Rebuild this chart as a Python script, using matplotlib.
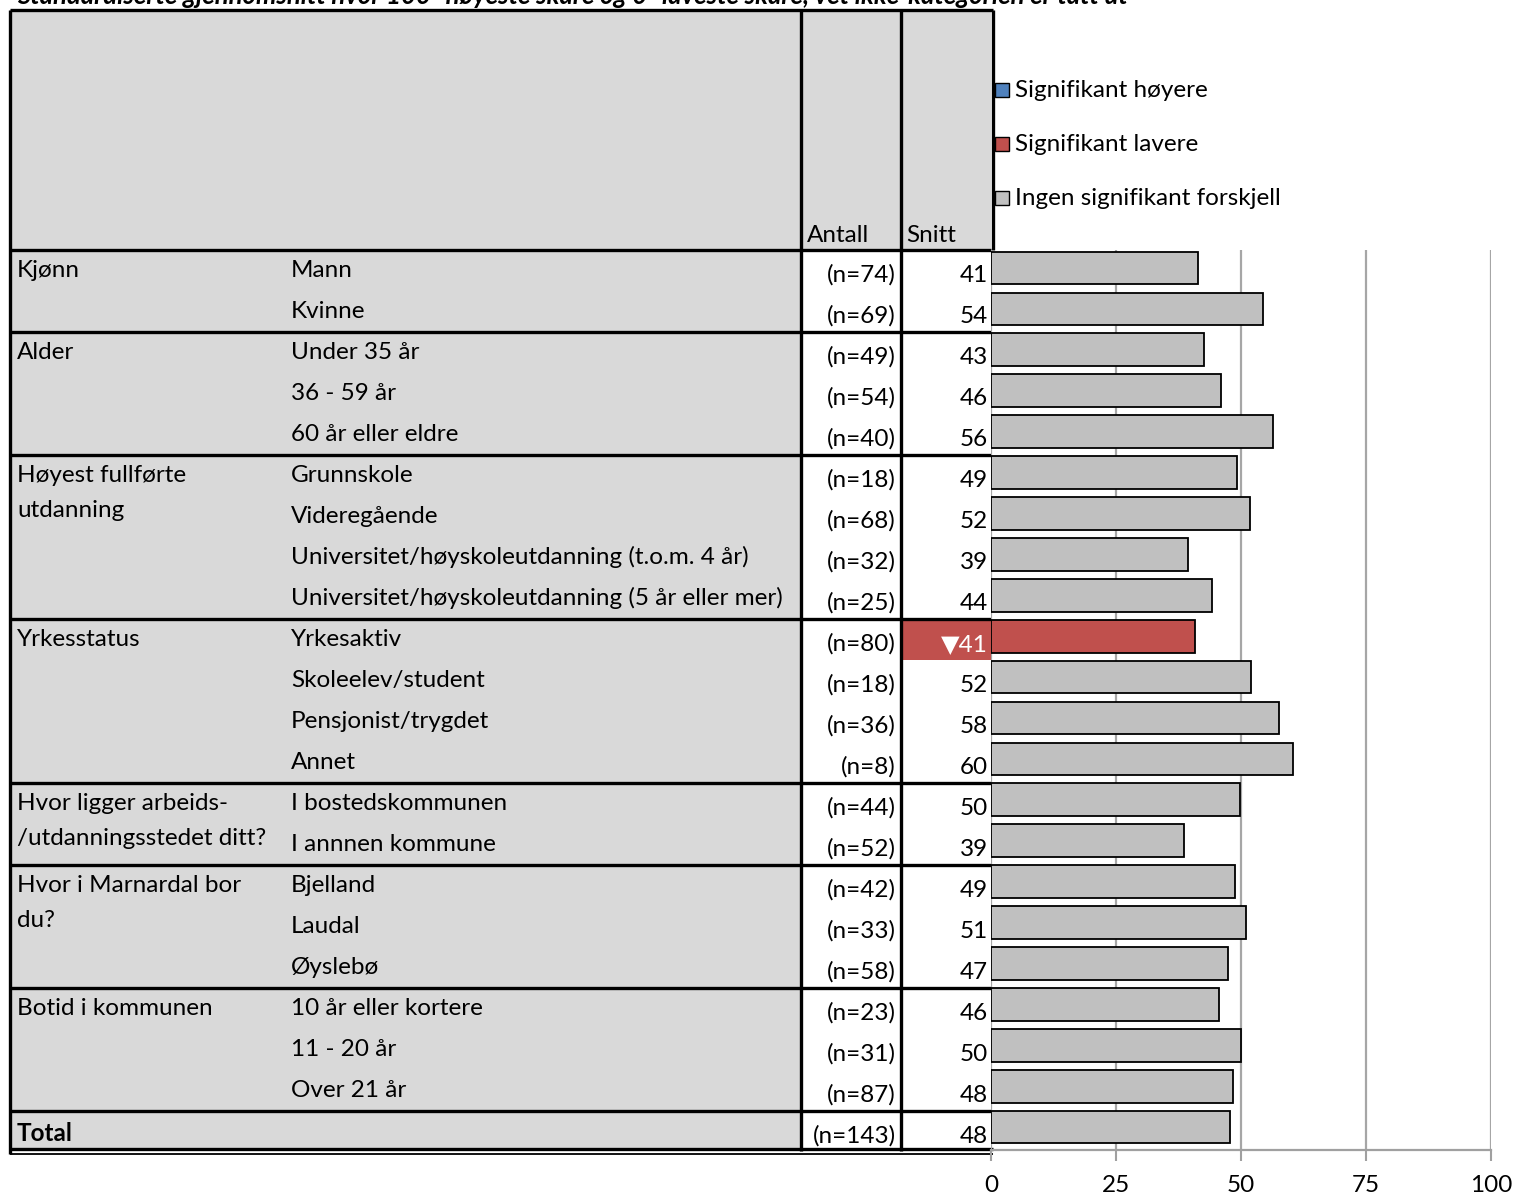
import matplotlib
matplotlib.use("Agg")
import matplotlib.pyplot as plt
from matplotlib.patches import Rectangle

plt.rcParams['font.family'] = ['Lato', 'DejaVu Sans']

# ---------------- data ----------------
title = "Standardiserte gjennomsnitt hvor 100=høyeste skåre og 0=laveste skåre, vet ikke-kategorien er tatt ut"
groups = ["Kjønn", "Alder", "Høyest fullførte\nutdanning", "Yrkesstatus",
          "Hvor ligger arbeids-\n/utdanningsstedet ditt?", "Hvor i Marnardal bor\ndu?",
          "Botid i kommunen"]
group_sizes = [2, 3, 4, 4, 2, 3, 3]
categories = ["Mann", "Kvinne",
              "Under 35 år", "36 - 59 år", "60 år eller eldre",
              "Grunnskole", "Videregående", "Universitet/høyskoleutdanning (t.o.m. 4 år)",
              "Universitet/høyskoleutdanning (5 år eller mer)",
              "Yrkesaktiv", "Skoleelev/student", "Pensjonist/trygdet", "Annet",
              "I bostedskommunen", "I annnen kommune",
              "Bjelland", "Laudal", "Øyslebø",
              "10 år eller kortere", "11 - 20 år", "Over 21 år",
              "Total"]
antall = [74, 69, 49, 54, 40, 18, 68, 32, 25, 80, 18, 36, 8, 44, 52, 42, 33, 58, 23, 31, 87, 143]
snitt = [41, 54, 43, 46, 56, 49, 52, 39, 44, 41, 52, 58, 60, 50, 39, 49, 51, 47, 46, 50, 48, 48]
values = [41.4, 54.4, 42.6, 46.0, 56.4, 49.2, 51.8, 39.4, 44.2, 40.8, 52.0, 57.6, 60.4,
          49.8, 38.6, 48.8, 51.0, 47.4, 45.6, 50.0, 48.4, 47.8]
# 0 = no significant difference, -1 = significantly lower, 1 = significantly higher
signif = [0, 0, 0, 0, 0, 0, 0, 0, 0, -1, 0, 0, 0, 0, 0, 0, 0, 0, 0, 0, 0, 0]
legend_labels = ["Signifikant høyere", "Signifikant lavere", "Ingen signifikant forskjell"]
xticks = [0, 25, 50, 75, 100]

# ---------------- styles ----------------
W, H = 1515, 1195
GRAY_BG = "#d9d9d9"
BAR_GRAY = "#c0c0c0"
RED = "#c0504d"
BLUE = "#4f81bd"
FS = 17.5
ROW_TOP0 = 250
ROW_H = 41
X_LEFT, X_ANT, X_SNI, X_CH = 10, 801, 901, 991

fig = plt.figure(figsize=(W / 100, H / 100), dpi=100)
bg = fig.add_axes([0, 0, 1, 1])
bg.set_xlim(0, W)
bg.set_ylim(H, 0)
bg.axis("off")

n = len(categories)
table_bottom = ROW_TOP0 + n * ROW_H - 1

# backgrounds
bg.add_patch(Rectangle((X_LEFT, 10), X_CH - X_LEFT, ROW_TOP0 - 10, color=GRAY_BG, lw=0, zorder=0))
bg.add_patch(Rectangle((X_LEFT, ROW_TOP0), X_ANT - X_LEFT, table_bottom - ROW_TOP0, color=GRAY_BG, lw=0, zorder=0))
bg.add_patch(Rectangle((X_ANT, ROW_TOP0), X_CH - X_ANT, table_bottom - ROW_TOP0, color="white", lw=0, zorder=0))

# title (partly cut at top, as in the reference)
bg.text(17, 4, title, fontsize=18.5, fontweight="bold", fontstyle="italic", va="baseline", ha="left")

# headers
bg.text(X_ANT + 6, 242, "Antall", fontsize=FS, va="baseline")
bg.text(X_SNI + 5, 242, "Snitt", fontsize=FS, va="baseline")

# rows
for i in range(n):
    top = ROW_TOP0 + i * ROW_H
    if categories[i] == "Total":
        bg.text(17, top + 30, categories[i], fontsize=FS, fontweight="bold", va="baseline")
    else:
        bg.text(291, top + 27, categories[i], fontsize=FS, va="baseline")
    bg.text(X_SNI - 5, top + 32, f"(n={antall[i]})", fontsize=FS, ha="right", va="baseline")
    if signif[i] == -1:
        bg.add_patch(Rectangle((X_SNI + 2, top), X_CH - X_SNI - 2, ROW_H, color=RED, lw=0, zorder=0.5))
        bg.text(X_CH - 3, top + 32, f"▼{snitt[i]}", fontsize=FS, ha="right", va="baseline", color="white")
    elif signif[i] == 1:
        bg.add_patch(Rectangle((X_SNI + 2, top), X_CH - X_SNI - 2, ROW_H, color=BLUE, lw=0, zorder=0.5))
        bg.text(X_CH - 3, top + 32, f"▲{snitt[i]}", fontsize=FS, ha="right", va="baseline", color="white")
    else:
        bg.text(X_CH - 3, top + 32, f"{snitt[i]}", fontsize=FS, ha="right", va="baseline")

# group labels and separators
start = 0
seps = [ROW_TOP0]
for g, sz in zip(groups, group_sizes):
    top = ROW_TOP0 + start * ROW_H
    for k, line in enumerate(g.split("\n")):
        bg.text(17, top + 27 + 35 * k, line, fontsize=FS, va="baseline")
    start += sz
    seps.append(ROW_TOP0 + start * ROW_H)

LW = 2.4
bg.plot([X_LEFT, X_CH + 2], [10, 10], color="black", lw=LW, solid_capstyle="butt")
for y in seps:
    bg.plot([X_LEFT, X_CH], [y, y], color="black", lw=LW, solid_capstyle="butt")
bg.plot([X_LEFT, X_CH + 2], [table_bottom - 2, table_bottom - 2], color="black", lw=LW, solid_capstyle="butt")
bg.plot([X_LEFT, X_CH + 2], [table_bottom + 3, table_bottom + 3], color="black", lw=1.3, solid_capstyle="butt")
bg.plot([X_LEFT, X_LEFT], [10, table_bottom + 3], color="black", lw=LW, solid_capstyle="butt")
bg.plot([X_ANT, X_ANT], [10, table_bottom], color="black", lw=LW, solid_capstyle="butt")
bg.plot([X_SNI, X_SNI], [10, table_bottom], color="black", lw=LW, solid_capstyle="butt")
bg.plot([X_CH + 1.5, X_CH + 1.5], [10, ROW_TOP0], color="black", lw=LW, solid_capstyle="butt")

# legend
leg_colors = [BLUE, RED, BAR_GRAY]
for k, (lab, c) in enumerate(zip(legend_labels, leg_colors)):
    y0 = 83 + 54 * k
    bg.add_patch(Rectangle((995, y0), 14, 14, facecolor=c, edgecolor="black", lw=1.0, zorder=3))
    bg.text(1015, y0 + 14, lab, fontsize=FS, va="baseline")

# ---------------- chart ----------------
ch_top, ch_bot = 250, 1150
ax = fig.add_axes([X_CH / W, (H - ch_bot) / H, 500 / W, (ch_bot - ch_top) / H])
ax.set_facecolor("none")
colors = [RED if s == -1 else (BLUE if s == 1 else BAR_GRAY) for s in signif]
ypos = list(range(n))
ax.barh(ypos, values, height=0.8, color=colors, edgecolor="black", linewidth=1.3, zorder=3)
ax.set_xlim(0, 100)
d = 0.06
ax.set_ylim(n - 0.5 + d, -0.5 + d)
ax.set_xticks(xticks)
ax.set_xticklabels([str(t) for t in xticks], fontsize=FS)
ax.tick_params(axis="x", length=8, width=1.5, color="#a0a0a0", pad=10)
ax.set_yticks([])
ax.grid(axis="x", color="#a6a6a6", lw=1.6, zorder=0)
for s in ["top", "right", "left"]:
    ax.spines[s].set_visible(False)
ax.spines["bottom"].set_color("#a0a0a0")
ax.spines["bottom"].set_linewidth(1.6)

fig.savefig("out.png", dpi=100)
